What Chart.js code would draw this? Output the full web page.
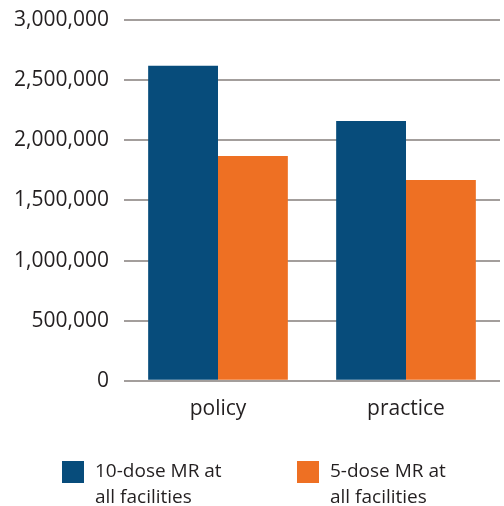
<!DOCTYPE html>
<html>
<head>
<meta charset="utf-8">
<script src="https://cdn.jsdelivr.net/npm/chart.js@4/dist/chart.umd.min.js"></script>
<style>
    html, body { margin: 0; padding: 0; background: #fff; }
    #wrap { position: relative; width: 504px; height: 506px; }
    #legend { position: absolute; left: 0; top: 0; width: 504px; height: 506px; pointer-events: none;
              font-family: "Open Sans", sans-serif; font-size: 19px; color: #231f20; line-height: 26px; }
    .item { position: absolute; top: 457px; }
    .swatch { position: absolute; top: 4px; width: 22px; height: 22px; }
    .label { position: absolute; left: 33px; top: 0; white-space: nowrap; }
</style>
</head>
<body>
<div id="wrap">
    <canvas id="chart" width="504" height="506"></canvas>
    <div id="legend"></div>
</div>
<script>
// Data
const categories = ['policy', 'practice'];
const seriesNames = [['10-dose MR at', 'all facilities'], ['5-dose MR at', 'all facilities']];
const tenDose = [2620000, 2160000];
const fiveDose = [1870000, 1670000];
const yTicks = [0, 500000, 1000000, 1500000, 2000000, 2500000, 3000000];

const colors = ['#074c7b', '#ee7023'];
const textColor = '#231f20';
const gridColor = '#a39e9c';
const font = { family: '"Open Sans", sans-serif', size: 21 };

const chart = new Chart(document.getElementById('chart').getContext('2d'), {
    type: 'bar',
    data: {
        labels: categories,
        datasets: [
            { label: seriesNames[0].join(' '), data: tenDose, backgroundColor: colors[0] },
            { label: seriesNames[1].join(' '), data: fiveDose, backgroundColor: colors[1] },
        ],
    },
    options: {
        responsive: false,
        animation: false,
        layout: { padding: { top: 20, right: 4, bottom: 76, left: 0 } },
        datasets: { bar: { categoryPercentage: 0.743, barPercentage: 1.0 } },
        plugins: {
            legend: { display: false },
            tooltip: { enabled: false },
        },
        scales: {
            x: {
                grid: { display: false },
                border: { display: false },
                ticks: { color: textColor, font: font, padding: 8 },
            },
            y: {
                min: 0,
                max: 3000000,
                afterBuildTicks: (scale) => { scale.ticks = yTicks.map(v => ({ value: v })); },
                afterFit: (scale) => {
                    scale.width = 124;
                    // let the layout padding alone set the top of the plot
                    scale.paddingTop = 0;
                    scale.paddingBottom = 0;
                },
                grid: { color: gridColor, lineWidth: 2, drawTicks: false },
                border: { display: false },
                ticks: {
                    color: textColor,
                    font: font,
                    padding: 15,
                    callback: (v) => Number(v).toLocaleString('en-US'),
                },
            },
        },
    },
});

// Legend with two-line labels, placed under the chart
const legendEl = document.getElementById('legend');
const legendX = [62, 297];
seriesNames.forEach((lines, i) => {
    const item = document.createElement('div');
    item.className = 'item';
    item.style.left = legendX[i] + 'px';
    item.innerHTML = '<div class="swatch" style="background:' + colors[i] + '"></div>' +
        '<div class="label">' + lines.join('<br>') + '</div>';
    legendEl.appendChild(item);
});
</script>
</body>
</html>
